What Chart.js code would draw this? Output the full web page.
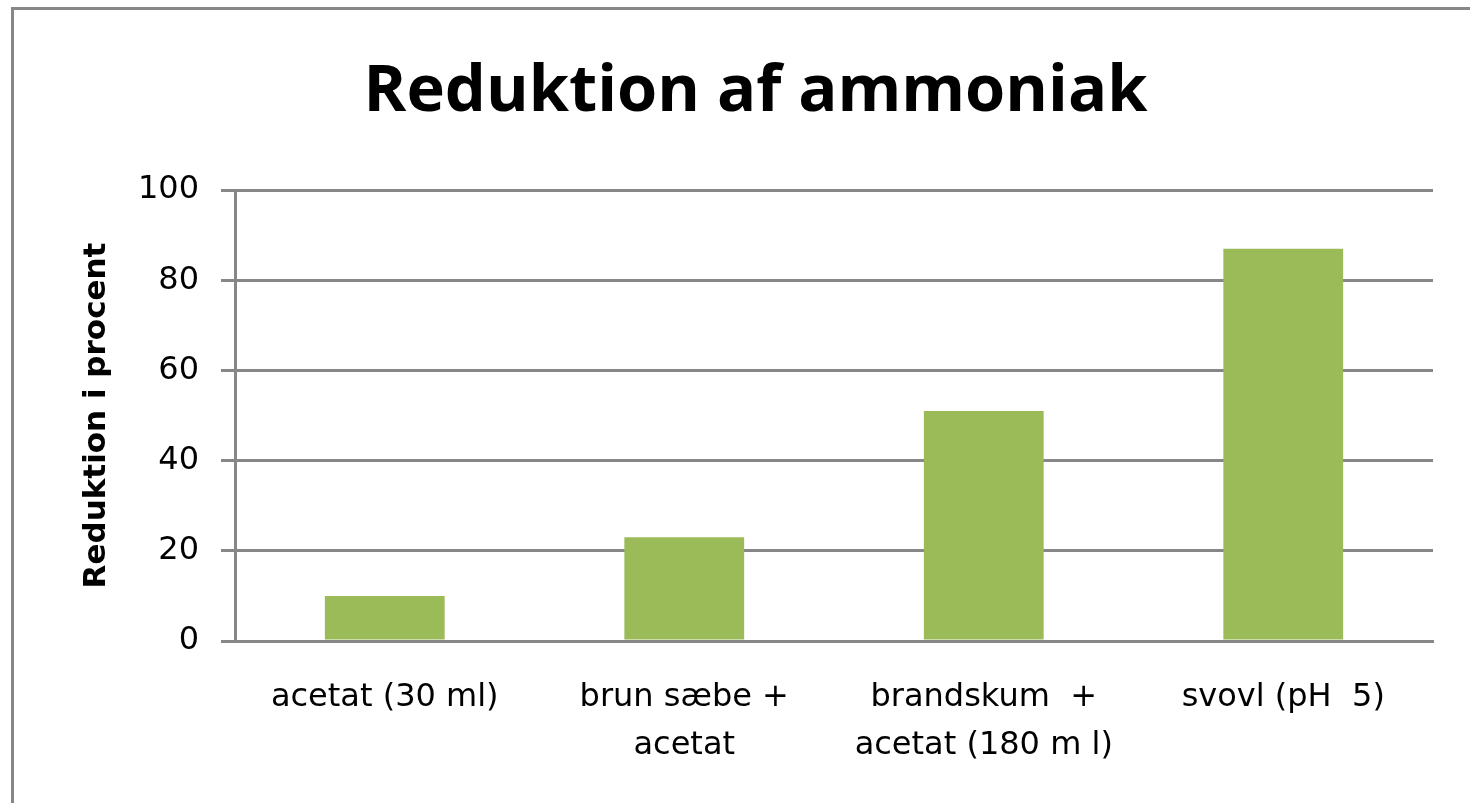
<!DOCTYPE html>
<html>
<head>
<meta charset="utf-8">
<script src="https://cdn.jsdelivr.net/npm/chart.js@4.4.1/dist/chart.umd.min.js"></script>
<style>
  html, body { margin: 0; padding: 0; background: #fff; overflow: hidden; }
  .frame {
    position: absolute; left: 11px; top: 7px; width: 1500px; height: 850px;
    border-left: 3px solid #878787; border-top: 3px solid #878787;
  }
  .wrap { position: absolute; left: 0; top: 0; width: 1470px; height: 803px; }
</style>
</head>
<body>
<div class="frame"></div>
<div class="wrap"><canvas id="grafico"></canvas></div>
<script>
// data
const categories = [
  'acetat (30 ml)',
  ['brun sæbe +', 'acetat'],
  ['brandskum  +', 'acetat (180 m l)'],
  'svovl (pH  5)'
];
const reduktion = [10, 23, 51, 87];
const yTicks = [0, 20, 40, 60, 80, 100];

const grid = '#878787';
const tickFont = { family: 'DejaVu Sans', size: 32 };

const chart = new Chart(document.getElementById('grafico'), {
  type: 'bar',
  data: {
    labels: categories,
    datasets: [{
      label: 'Reduktion i procent',
      data: reduktion,
      backgroundColor: '#9BBB59',
      borderWidth: 0,
      barPercentage: 0.4,
      categoryPercentage: 1
    }]
  },
  options: {
    responsive: true,
    maintainAspectRatio: false,
    animation: false,
    layout: { padding: { left: 78, right: 37, top: 0, bottom: 0 } },
    plugins: {
      legend: { display: false },
      tooltip: { enabled: false },
      title: {
        display: true,
        text: 'Reduktion af ammoniak',
        color: '#000',
        font: { family: 'Open Sans', size: 65, weight: 'bold' },
        padding: { top: 53, bottom: 59 }
      }
    },
    scales: {
      y: {
        min: 0,
        max: 100,
        afterBuildTicks: (axis) => { axis.ticks = yTicks.map(v => ({ value: v })); },
        afterFit: (axis) => { axis.width = 235 - 78; },
        ticks: { color: '#000', font: tickFont, padding: 22 },
        grid: { color: grid, lineWidth: 3, tickLength: 14 },
        border: { display: true, color: grid, width: 3 },
        title: {
          display: true,
          text: 'Reduktion i procent',
          color: '#000',
          font: { family: 'DejaVu Sans', size: 31, weight: 'bold' },
          padding: 0
        }
      },
      x: {
        grid: { display: false, drawTicks: false },
        border: { display: true, color: grid, width: 3 },
        ticks: {
          color: '#000',
          font: { family: 'DejaVu Sans', size: 32, lineHeight: 1.5 },
          padding: 33,
          maxRotation: 0,
          autoSkip: false
        }
      }
    }
  }
});
</script>
</body>
</html>
